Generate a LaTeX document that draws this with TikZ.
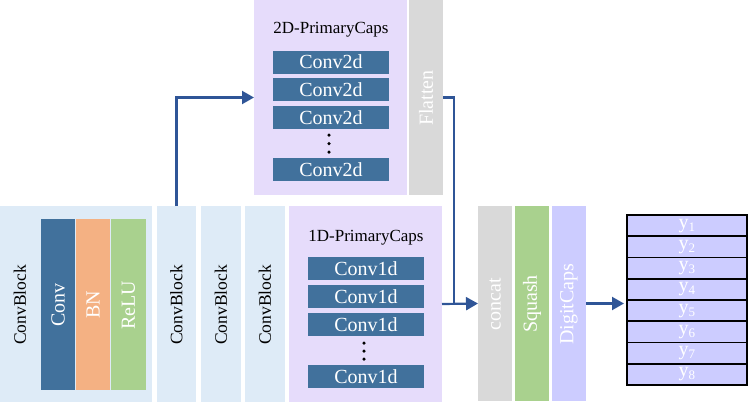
\documentclass[tikz,border=0pt]{standalone}
\usepackage{fontspec}
\setmainfont{Liberation Serif}
\usetikzlibrary{arrows.meta}
\definecolor{cbblue}{HTML}{DEEBF7}
\definecolor{convblue}{HTML}{41719C}
\definecolor{bnorange}{HTML}{F4B183}
\definecolor{relugreen}{HTML}{A9D18E}
\definecolor{capspurple}{HTML}{E6DCFB}
\definecolor{flatgray}{HTML}{D9D9D9}
\definecolor{digitlav}{HTML}{CCCCFF}
\definecolor{arrblue}{HTML}{2F5597}
\tikzset{
  vbar/.style={inner sep=0pt, outer sep=0pt, rotate=90, text=white, font=\fontsize{20}{20}\selectfont},
  cbtext/.style={inner sep=0pt, rotate=90, text=black, font=\fontsize{17.5}{17.5}\selectfont},
  capbox/.style={fill=convblue, inner sep=0pt, outer sep=0pt, minimum width=116pt, minimum height=23pt, text=white, font=\fontsize{20}{20}\selectfont},
  captitle/.style={inner sep=0pt, font=\fontsize{17}{17}\selectfont},
  yrow/.style={fill=digitlav, draw=black, line width=1.7pt, inner sep=0pt, outer sep=0pt, minimum width=120pt, minimum height=21.25pt, text=white, font=\fontsize{20}{20}\selectfont},
  arr/.style={draw=arrblue, line width=2.2pt, -{Triangle[length=12pt,width=13pt]}},
  conn/.style={draw=arrblue, line width=2.2pt},
  dotc/.style={fill=black, circle, inner sep=0pt, minimum size=3.5pt}
}
\begin{document}
\begin{tikzpicture}[x=1pt,y=-1pt]
\useasboundingbox (0,0) rectangle (750,402);
% Big ConvBlock
\node[fill=cbblue, inner sep=0pt, minimum width=152pt, minimum height=196pt] (cb1) at (76,304) {};
\node[cbtext] (cb1t) at (20,305) {ConvBlock};
\node[fill=convblue, inner sep=0pt, minimum width=34pt, minimum height=171pt] (conv) at (58,304.5) {};
\node[vbar] (convt) at (58,305) {Conv};
\node[fill=bnorange, inner sep=0pt, minimum width=34pt, minimum height=171pt] (bn) at (93,304.5) {};
\node[vbar] (bnt) at (93,305) {BN};
\node[fill=relugreen, inner sep=0pt, minimum width=35pt, minimum height=171pt] (relu) at (128.5,304.5) {};
\node[vbar] (relut) at (128.5,305) {ReLU};
% ConvBlocks
\node[fill=cbblue, inner sep=0pt, outer sep=0pt, minimum width=39pt, minimum height=196pt] (cb2) at (176.5,304) {};
\node[cbtext] at (176.5,305) {ConvBlock};
\node[fill=cbblue, inner sep=0pt, outer sep=0pt, minimum width=40pt, minimum height=196pt] (cb3) at (221,304) {};
\node[cbtext] at (221,305) {ConvBlock};
\node[fill=cbblue, inner sep=0pt, outer sep=0pt, minimum width=40pt, minimum height=196pt] (cb4) at (265,304) {};
\node[cbtext] at (265,305) {ConvBlock};
% 1D PrimaryCaps
\node[fill=capspurple, inner sep=0pt, outer sep=0pt, minimum width=153pt, minimum height=196pt] (p1) at (365.5,304) {};
\node[captitle] (p1t) at (366,238) {1D-PrimaryCaps};
\node[capbox] (c11) at (366,268.5) {Conv1d};
\node[capbox] (c12) at (366,296.5) {Conv1d};
\node[capbox] (c13) at (366,324.5) {Conv1d};
\node[dotc] (d11) at (364,343) {};
\node[dotc] (d12) at (364,351) {};
\node[dotc] (d13) at (364,359) {};
\node[capbox] (c14) at (366,376.5) {Conv1d};
% 2D PrimaryCaps
\node[fill=capspurple, inner sep=0pt, outer sep=0pt, minimum width=153pt, minimum height=195pt] (p2) at (330.5,97.5) {};
\node[captitle] (p2t) at (331,30) {2D-PrimaryCaps};
\node[capbox] (c21) at (331,62) {Conv2d};
\node[capbox] (c22) at (331,89.5) {Conv2d};
\node[capbox] (c23) at (331,117.5) {Conv2d};
\node[dotc] (d21) at (329,135) {};
\node[dotc] (d22) at (329,143.5) {};
\node[dotc] (d23) at (329,152) {};
\node[capbox] (c24) at (331,169.5) {Conv2d};
% Flatten
\node[fill=flatgray, inner sep=0pt, outer sep=0pt, minimum width=34pt, minimum height=195pt] (flat) at (426,97.5) {};
\node[vbar] (flatt) at (426,98) {Flatten};
% concat, squash, digitcaps
\node[fill=flatgray, inner sep=0pt, outer sep=0pt, minimum width=34pt, minimum height=195pt] (cat) at (495,303.5) {};
\node[vbar] at (495,304) {concat};
\node[fill=relugreen, inner sep=0pt, outer sep=0pt, minimum width=34pt, minimum height=195pt] (sq) at (532,303.5) {};
\node[vbar] at (532,304) {Squash};
\node[fill=digitlav, inner sep=0pt, outer sep=0pt, minimum width=34pt, minimum height=195pt] (dc) at (569,303.5) {};
\node[vbar] at (569,304) {DigitCaps};
% output rows
\foreach \i in {1,...,8} {
  \node[yrow] (y\i) at (687,{215+21.25*(\i-0.5)}) {\raisebox{-4pt}{y\textsubscript{\fontsize{13}{13}\selectfont\i}}};
}
% connectors
\coordinate (j) at (454,304);
\draw[arr] (cb2.north) |- (p2.west);
\draw[conn] (flat.east) -| (j);
\draw[arr] (p1.east) -- (cat.west);
\draw[arr, shorten >=3pt] (dc.east) -- (dc.east -| y5.west);
\end{tikzpicture}
\end{document}
